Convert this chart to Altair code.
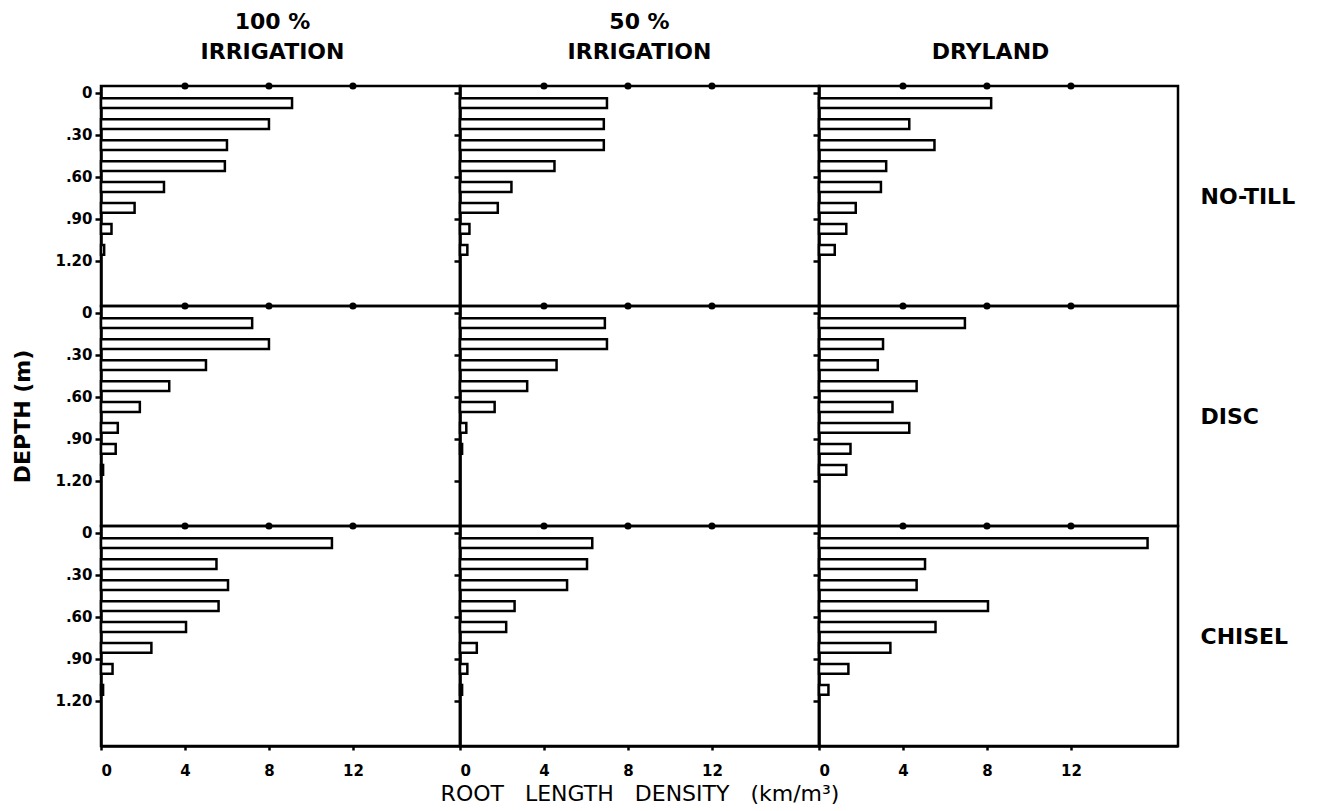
import altair as alt
import pandas as pd

# depth interval tops (m); each interval is 0.15 m thick
depth_top = [0.00, 0.15, 0.30, 0.45, 0.60, 0.75, 0.90, 1.05]

col_titles = [["100 %", "IRRIGATION"], ["50 %", "IRRIGATION"], ["DRYLAND"]]
row_titles = ["NO-TILL", "DISC", "CHISEL"]

# root length density (km/m^3) per depth interval
notill_100 = [9.1, 8.0, 6.0, 5.9, 3.0, 1.6, 0.5, 0.15]
notill_50 = [7.0, 6.85, 6.85, 4.5, 2.45, 1.8, 0.45, 0.35]
notill_dry = [8.2, 4.3, 5.5, 3.2, 2.95, 1.75, 1.3, 0.75]

disc_100 = [7.2, 8.0, 5.0, 3.25, 1.85, 0.8, 0.7, 0.1]
disc_50 = [6.9, 7.0, 4.6, 3.2, 1.65, 0.3, 0.1, None]
disc_dry = [6.95, 3.05, 2.8, 4.65, 3.5, 4.3, 1.5, 1.3]

chisel_100 = [11.0, 5.5, 6.05, 5.6, 4.05, 2.4, 0.55, 0.1]
chisel_50 = [6.3, 6.05, 5.1, 2.6, 2.2, 0.8, 0.35, 0.1]
chisel_dry = [15.65, 5.05, 4.65, 8.05, 5.55, 3.4, 1.4, 0.45]

grid = [
    [notill_100, notill_50, notill_dry],
    [disc_100, disc_50, disc_dry],
    [chisel_100, chisel_50, chisel_dry],
]

depth_ticks = [0, 0.3, 0.6, 0.9, 1.2]
density_ticks = [0, 4, 8, 12]
top_dots = [4, 8, 12]

FONT = "DejaVu Sans"

label_expr = ("datum.value == 0 ? '0' : (datum.value < 1 ? "
              "substring(format(datum.value, '.2f'), 1) : format(datum.value, '.2f'))")

NB = "\u00a0\u00a0\u00a0"
X_TITLE = "ROOT" + NB + "LENGTH" + NB + "DENSITY" + NB + "(km/m\u00b3)"


def panel(r, c):
    vals = grid[r][c]
    df = pd.DataFrame({"top": depth_top, "value": vals}).dropna()
    yscale = alt.Scale(domain=[-0.05, 1.525], reverse=True, nice=False, zero=False)
    xscale = alt.Scale(domain=[0, 17.1], nice=False, zero=False)

    yaxis_kw = dict(values=depth_ticks, labelExpr=label_expr, labels=(c == 0),
                    grid=False, title=None)
    if c == 0 and r == 1:
        yaxis_kw.update(title="DEPTH (m)", titleFontSize=22, titleFont=FONT,
                        titleFontWeight="bold", titlePadding=20, titleColor="black")
    yaxis = alt.Axis(**yaxis_kw)

    if r == 2:
        xaxis_kw = dict(values=density_ticks, grid=False, title=None,
                        labelPadding=13, tickSize=4)
        if c == 1:
            xaxis_kw.update(title=X_TITLE, titleFontSize=22, titleFont=FONT,
                            titleFontWeight="normal", titlePadding=5, titleColor="black")
        xaxis = alt.Axis(**xaxis_kw)
    else:
        xaxis = None

    base = alt.Chart(df).transform_calculate(
        y0="datum.top + 0.038", y1="datum.top + 0.108"
    )
    bars = base.mark_bar(fill="white", stroke="black", strokeWidth=2.5).encode(
        x=alt.X("value:Q", scale=xscale, axis=xaxis),
        x2=alt.datum(0),
        y=alt.Y("y0:Q", scale=yscale, axis=yaxis),
        y2="y1:Q",
    )
    dots = alt.Chart(pd.DataFrame({"t": top_dots})).mark_point(
        filled=True, size=50, color="black", opacity=1
    ).encode(x=alt.X("t:Q", scale=xscale), y=alt.value(0))

    layers = [bars, dots]
    if c == 2:
        ghost = base.mark_bar(opacity=0).encode(
            x=alt.X("value:Q", scale=xscale),
            x2=alt.datum(0),
            y=alt.Y("y0:Q", scale=yscale,
                    axis=alt.Axis(orient="right", labels=False, ticks=False, domain=False,
                                  grid=False, title=row_titles[r], titleAngle=0,
                                  titleAlign="left", titleBaseline="middle", titleY=110,
                                  titlePadding=22, titleFontSize=22, titleFont=FONT,
                                  titleFontWeight="bold", titleColor="black")),
            y2="y1:Q",
        )
        layers.append(ghost)

    ch = alt.layer(*layers)
    if c == 2:
        ch = ch.resolve_axis(y="independent")
    props = dict(width=359, height=220)
    if r == 0:
        props["title"] = alt.TitleParams(
            col_titles[c], fontSize=22, font=FONT, fontWeight="bold",
            lineHeight=30, offset=-4, anchor="middle", baseline="bottom",
            color="black", dx=(-8 if c != 1 else 0),
        )
    return ch.properties(**props)


panels = [panel(r, c) for r in range(3) for c in range(3)]

chart = alt.concat(
    *panels, columns=3, spacing=0, bounds="flush", align="each"
).properties(background="white", padding=2).configure_view(
    stroke="black", strokeWidth=2.5
).configure_axis(
    domainColor="black", domainWidth=2.5, tickColor="black", tickWidth=2.5,
    tickSize=6, labelFont=FONT, labelFontSize=15, labelFontWeight="bold",
    labelColor="black", labelPadding=3
)

chart.save("out.html", embed_options={"renderer": "svg", "actions": False})
